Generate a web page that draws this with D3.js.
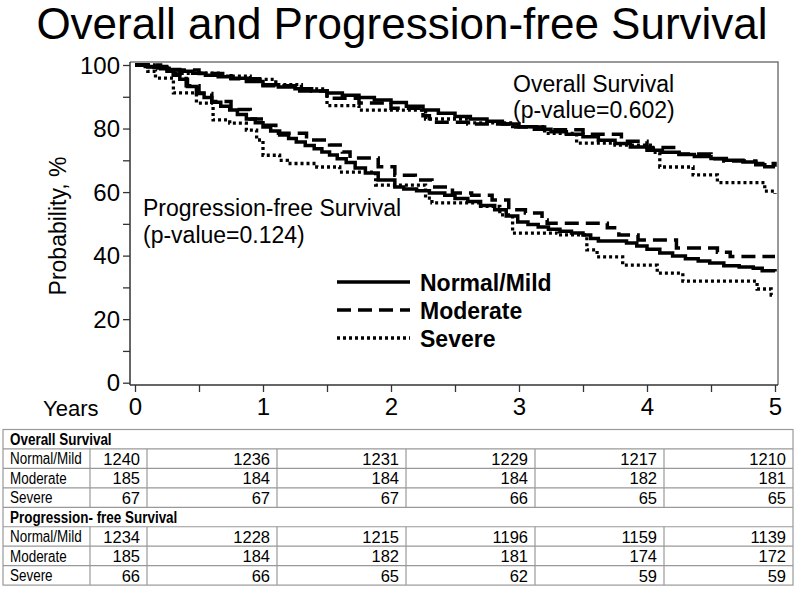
<!DOCTYPE html>
<html>
<head>
<meta charset="utf-8">
<script src="https://cdn.jsdelivr.net/npm/d3@7"></script>
<style>
  html, body { margin: 0; padding: 0; background: #fff; }
  svg { display: block; font-family: "Liberation Sans", Arial, sans-serif; }
</style>
</head>
<body>
<svg id="chart" width="800" height="594"></svg>
<script>
// ---------------- DATA ----------------
const titleText = "Overall and Progression-free Survival";
const groups = ["Normal/Mild", "Moderate", "Severe"];
const xTickValues = [0, 1, 2, 3, 4, 5];
const yTickValues = [0, 20, 40, 60, 80, 100];

// Kaplan-Meier curves: [years, survival %]
const osNormal = [[0,100],[0.08,99.5],[0.15,99.2],[0.25,98.6],[0.35,98],[0.45,97.4],[0.55,96.8],[0.65,96.3],[0.75,95.8],[0.87,94.8],[1.0,93.8],[1.12,93.1],[1.25,92.5],[1.38,91.8],[1.5,91.2],[1.62,90.5],[1.75,89.8],[1.87,89],[2.0,88.2],[2.12,87],[2.25,85.8],[2.37,84.8],[2.5,83.8],[2.62,83],[2.75,82.3],[2.87,81.4],[3.0,80.6],[3.12,79.8],[3.25,79],[3.37,78.2],[3.5,77.4],[3.62,76.3],[3.75,75.3],[3.87,74.2],[4.0,73.2],[4.12,72.5],[4.25,71.8],[4.37,71.2],[4.5,70.6],[4.62,70],[4.75,69.5],[4.85,68.6],[4.92,68],[5,68]];
const osModerate = [[0,100],[0.15,99.5],[0.3,98.4],[0.5,97.3],[0.75,95.7],[1.0,93.5],[1.25,91.8],[1.5,89.5],[1.75,88],[2.0,86.4],[2.25,84],[2.3,82],[2.6,81.4],[2.95,80.5],[3.2,79.6],[3.5,78.2],[3.8,76],[4.0,74],[4.25,72],[4.5,70.5],[4.6,69.8],[4.85,69],[5,68]];
const osSevere = [[0,100],[0.15,99],[0.3,97.4],[0.65,96.5],[0.9,95.5],[1.1,93.8],[1.3,92.5],[1.5,87.2],[1.75,85.8],[2.27,83],[2.6,81.8],[2.95,80.6],[3.2,78.5],[3.45,75.4],[3.75,74.8],[4.05,72.5],[4.1,67.9],[4.36,65.4],[4.55,63],[4.92,60.3],[5,59.5]];

const pfsNormal = [[0,100],[0.1,99.4],[0.2,98.8],[0.25,98],[0.3,96.8],[0.35,95.5],[0.41,93.2],[0.48,91.2],[0.54,89.8],[0.6,88.3],[0.67,87],[0.74,85.8],[0.8,84.4],[0.87,83],[0.94,81.8],[1.0,80.5],[1.06,79.2],[1.13,78],[1.2,76.9],[1.26,75.8],[1.33,74.7],[1.4,73.6],[1.46,72.6],[1.52,71.7],[1.58,70.5],[1.65,69.3],[1.72,67.6],[1.8,66],[1.9,63.8],[2.03,61.6],[2.1,61],[2.2,60.4],[2.3,59.7],[2.42,59],[2.5,58],[2.6,57],[2.7,55.8],[2.81,54.4],[2.9,52.5],[2.99,50.6],[3.07,49.8],[3.15,49],[3.23,48.3],[3.32,47.7],[3.41,47.1],[3.5,46.5],[3.56,45.4],[3.62,44.6],[3.84,44],[3.92,43],[4.0,42],[4.1,40.8],[4.2,39.9],[4.3,39],[4.4,38.3],[4.49,37.7],[4.6,36.8],[4.72,36.4],[4.83,36],[4.9,35.2],[5,35]];
const pfsModerate = [[0,100],[0.2,99],[0.3,97],[0.4,93.5],[0.5,91],[0.6,88.5],[0.75,86],[0.9,83],[1.0,81],[1.1,78.5],[1.34,76.4],[1.52,74.8],[1.62,72.6],[1.68,70.7],[1.9,68],[2.03,65.3],[2.19,63.8],[2.32,61.6],[2.48,59.7],[2.63,59],[2.79,57.5],[2.92,54.4],[3.05,53.4],[3.18,51.2],[3.22,50.2],[3.69,48.8],[3.78,46.5],[3.93,44.9],[4.23,42.4],[4.55,41.1],[4.65,39.7],[5,39.7]];
const pfsSevere = [[0,100],[0.1,98],[0.16,95.9],[0.3,91.2],[0.48,88],[0.61,82.7],[0.74,81.7],[0.87,79.5],[0.95,76.4],[1.0,71.6],[1.13,70],[1.19,69],[1.42,67.9],[1.6,66.3],[1.88,62.2],[2.27,58.1],[2.32,56.6],[2.7,55.5],[2.85,52.8],[2.95,47.1],[3.3,46.5],[3.53,41.8],[3.61,39.6],[3.81,37],[4.08,34.5],[4.28,32],[4.86,29.5],[4.97,27.6],[5,27.6]];

// Numbers at risk
const osAtRisk = [[1240,1236,1231,1229,1217,1210],[185,184,184,184,182,181],[67,67,67,66,65,65]];
const pfsAtRisk = [[1234,1228,1215,1196,1159,1139],[185,184,182,181,174,172],[66,66,65,62,59,59]];
const tableSections = ["Overall Survival", "Progression- free Survival"];

// ---------------- CHART ----------------
const svg = d3.select("#chart");
const x = d3.scaleLinear().domain([0, 5]).range([135, 775]);
const y = d3.scaleLinear().domain([0, 100]).range([382.7, 65]);
const frame = {left: 130, top: 62, right: 778, bottom: 385};

const styles = [
  {dash: null, width: 3.5},
  {dash: "14,7", width: 3.5},
  {dash: "3,3", width: 3.3}
];

// title
svg.append("text").attr("x", 402).attr("y", 39).attr("text-anchor", "middle")
  .attr("font-size", 44).attr("fill", "#000").text(titleText);

// frame (top/right gray)
svg.append("path")
  .attr("d", `M${frame.left},${frame.top}H${frame.right}V${frame.bottom}`)
  .attr("fill", "none").attr("stroke", "#777").attr("stroke-width", 1.5);

// y axis
const yAxis = d3.axisLeft(y).tickValues(d3.range(0, 101, 10)).tickSize(7)
  .tickFormat(d => yTickValues.includes(d) ? d : "");
const gy = svg.append("g").attr("transform", `translate(${frame.left},0)`).call(yAxis);
gy.select(".domain").remove();
gy.selectAll("line").attr("stroke", "#333").attr("stroke-width", 1.3);
gy.selectAll("text").attr("font-size", 24).attr("fill", "#000").attr("x", -10)
  .attr("font-family", "Liberation Sans, Arial, sans-serif").attr("dy", "0.34em");
svg.append("line").attr("x1", frame.left).attr("x2", frame.left)
  .attr("y1", frame.top).attr("y2", frame.bottom).attr("stroke", "#333").attr("stroke-width", 1.5);

// x axis
const xAxis = d3.axisBottom(x).tickValues(d3.range(0, 5.01, 0.5)).tickSize(7)
  .tickFormat(d => xTickValues.includes(d) ? d : "");
const gx = svg.append("g").attr("transform", `translate(0,${frame.bottom})`).call(xAxis);
gx.select(".domain").remove();
gx.selectAll("line").attr("stroke", "#333").attr("stroke-width", 1.3);
gx.selectAll("text").attr("font-size", 24).attr("fill", "#000").attr("y", 13)
  .attr("font-family", "Liberation Sans, Arial, sans-serif").attr("dy", "0.71em");
svg.append("line").attr("x1", frame.left).attr("x2", frame.right)
  .attr("y1", frame.bottom).attr("y2", frame.bottom).attr("stroke", "#333").attr("stroke-width", 1.5);

svg.append("text").attr("x", 43).attr("y", 416).attr("font-size", 22).text("Years");
svg.append("text").attr("transform", "translate(66,226) rotate(-90)")
  .attr("text-anchor", "middle").attr("font-size", 23).text("Probability, %");

// curves
const line = d3.line().x(d => x(d[0])).y(d => y(d[1])).curve(d3.curveStepAfter);
const curves = [
  [osNormal, 0], [osModerate, 1], [osSevere, 2],
  [pfsNormal, 0], [pfsModerate, 1], [pfsSevere, 2]
];
svg.append("g").selectAll("path").data(curves).join("path")
  .attr("d", d => line(d[0]))
  .attr("fill", "none").attr("stroke", "#000")
  .attr("stroke-width", d => styles[d[1]].width)
  .attr("stroke-dasharray", d => styles[d[1]].dash);

// annotations
const ann = svg.append("g").attr("font-size", 23).attr("fill", "#000");
ann.append("text").attr("x", 513).attr("y", 92).text("Overall Survival");
ann.append("text").attr("x", 513).attr("y", 118).text("(p-value=0.602)");
ann.append("text").attr("x", 143).attr("y", 216).text("Progression-free Survival");
ann.append("text").attr("x", 143).attr("y", 243).text("(p-value=0.124)");

// legend
const legendY = [282, 310, 338];
const lg = svg.append("g");
groups.forEach((g, i) => {
  lg.append("line").attr("x1", 337).attr("x2", 410).attr("y1", legendY[i]).attr("y2", legendY[i])
    .attr("stroke", "#000").attr("stroke-width", 3.5).attr("stroke-dasharray", styles[i].dash);
  lg.append("text").attr("x", 420).attr("y", legendY[i] + 9).attr("font-size", 23)
    .attr("font-weight", "bold").text(g);
});

// ---------------- TABLE ----------------
const tbl = {left: 3, right: 793, top: 429.5, rowH: 19.45};
const colEdges = [3, 90, 147, 277, 406, 535, 664, 793];
const tg = svg.append("g");
const rows = [];
[[osAtRisk, 0], [pfsAtRisk, 1]].forEach(([data, s]) => {
  rows.push({header: tableSections[s]});
  data.forEach((vals, gi) => rows.push({label: groups[gi], vals}));
});
const gridColor = "#999";
rows.forEach((r, i) => {
  const y0 = tbl.top + i * tbl.rowH, y1 = y0 + tbl.rowH;
  tg.append("line").attr("x1", tbl.left).attr("x2", tbl.right).attr("y1", y0).attr("y2", y0)
    .attr("stroke", gridColor).attr("stroke-width", 1.2);
  if (r.header) {
    const t = tg.append("text").attr("x", 10).attr("y", y1 - 4).attr("font-size", 16)
      .attr("font-weight", "bold").text(r.header);
    const w = t.node().getComputedTextLength();
    t.attr("textLength", w * 0.84).attr("lengthAdjust", "spacingAndGlyphs");
  } else {
    const t = tg.append("text").attr("x", 10).attr("y", y1 - 4).attr("font-size", 16).text(r.label);
    const w = t.node().getComputedTextLength();
    t.attr("textLength", w * 0.84).attr("lengthAdjust", "spacingAndGlyphs");
    r.vals.forEach((v, j) => {
      tg.append("text").attr("x", colEdges[j + 2] - 7).attr("y", y1 - 3.5).attr("font-size", 16.5)
        .attr("text-anchor", "end").text(v);
    });
    colEdges.slice(1, -1).forEach(cx => {
      tg.append("line").attr("x1", cx).attr("x2", cx).attr("y1", y0).attr("y2", y1)
        .attr("stroke", gridColor).attr("stroke-width", 1.2);
    });
  }
});
const tBottom = tbl.top + rows.length * tbl.rowH;
tg.append("rect").attr("x", tbl.left).attr("y", tbl.top).attr("width", tbl.right - tbl.left)
  .attr("height", tBottom - tbl.top).attr("fill", "none").attr("stroke", gridColor).attr("stroke-width", 1.2);
</script>
</body>
</html>
